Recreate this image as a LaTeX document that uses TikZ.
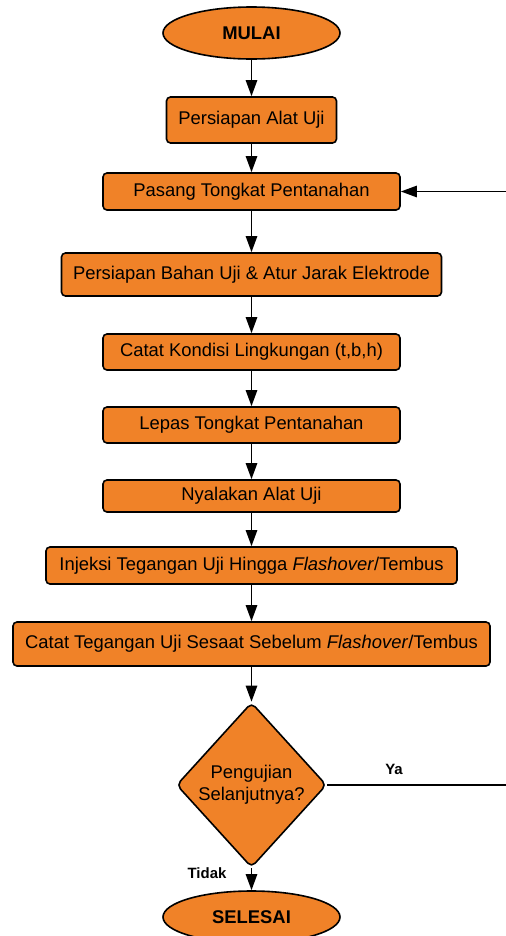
\documentclass[tikz,border=0pt]{standalone}
\usepackage{fontspec}
\setmainfont{Liberation Sans}
\usetikzlibrary{shapes.geometric, arrows.meta}

\definecolor{oranye}{RGB}{240,130,40}

\tikzset{
  proses/.style={draw=black, fill=oranye, rounded corners=3pt, line width=1.2pt,
    inner sep=2pt, font=\fontsize{13.8}{16.5}\selectfont},
  terminal/.style={draw=black, fill=oranye, ellipse, line width=1.2pt, inner sep=0pt,
    minimum width=132.75pt, minimum height=39pt, font=\fontsize{13.8}{16.5}\selectfont\bfseries},
  keputusan/.style={draw=black, fill=oranye, diamond, rounded corners=4pt, line width=1.2pt,
    inner sep=0pt, aspect=0.91, minimum width=112.5pt, minimum height=123.75pt,
    align=center, font=\fontsize{13.8}{16.5}\selectfont},
  panah/.style={line width=1.2pt, -{Triangle[length=12pt,width=8.5pt]}},
  garis/.style={line width=1.2pt},
  label/.style={font=\fontsize{11.2}{13}\selectfont\bfseries}
}

\begin{document}
\begin{tikzpicture}[x=0.75pt, y=-0.75pt]
  \useasboundingbox (0,0) rectangle (506,936);
  \clip (0,0) rectangle (506,936);

  % Start and end
  \node[terminal] (mulai) at (251.5,33) {MULAI};
  \node[terminal] (selesai) at (251.5,917) {SELESAI};

  % Process steps
  \node[proses, minimum width=127.5pt, minimum height=34.5pt] (alat) at (251.5,120) {Persiapan Alat Uji};
  \node[proses, minimum width=222.75pt, minimum height=27.75pt] (pasang) at (251.5,191.5) {Pasang Tongkat Pentanahan};
  \node[proses, minimum width=285pt, minimum height=32.25pt] (bahan) at (251.5,274.5) {Persiapan Bahan Uji \& Atur Jarak Elektrode};
  \node[proses, minimum width=222.75pt, minimum height=27pt] (kondisi) at (251.5,352) {Catat Kondisi Lingkungan (t,b,h)};
  \node[proses, minimum width=222.75pt, minimum height=27pt] (lepas) at (251.5,425) {Lepas Tongkat Pentanahan};
  \node[proses, minimum width=222.75pt, minimum height=24pt] (nyala) at (251.5,496) {Nyalakan Alat Uji};
  \node[proses, minimum width=308.25pt, minimum height=27.75pt] (injeksi) at (251.5,565.5) {Injeksi Tegangan Uji Hingga \textit{Flashover}/Tembus};
  \node[proses, minimum width=357.75pt, minimum height=33pt] (catat) at (251.5,644) {Catat Tegangan Uji Sesaat Sebelum \textit{Flashover}/Tembus};

  % Decision
  \node[keputusan] (cek) at (251.5,785) {Pengujian\\Selanjutnya?};

  % Main flow
  \draw[panah] (mulai) -- (alat);
  \draw[panah] (alat) -- (pasang);
  \draw[panah] (pasang) -- (bahan);
  \draw[panah] (bahan) -- (kondisi);
  \draw[panah] (kondisi) -- (lepas);
  \draw[panah] (lepas) -- (nyala);
  \draw[panah] (nyala) -- (injeksi);
  \draw[panah] (injeksi) -- (catat);
  \draw[panah] (catat) -- (cek);
  \draw[panah] (cek) -- (selesai);

  % Loop back (right edge)
  \coordinate (kanan1) at (506,785);
  \coordinate (kanan2) at (506,191.5);
  \draw[garis] (cek.east) -- (kanan1);
  \draw[panah] (kanan2) -- (pasang.east);

  % Labels
  \node[label] (ya) at (394,769) {Ya};
  \node[label] (tidak) at (207,873) {Tidak};
\end{tikzpicture}
\end{document}
